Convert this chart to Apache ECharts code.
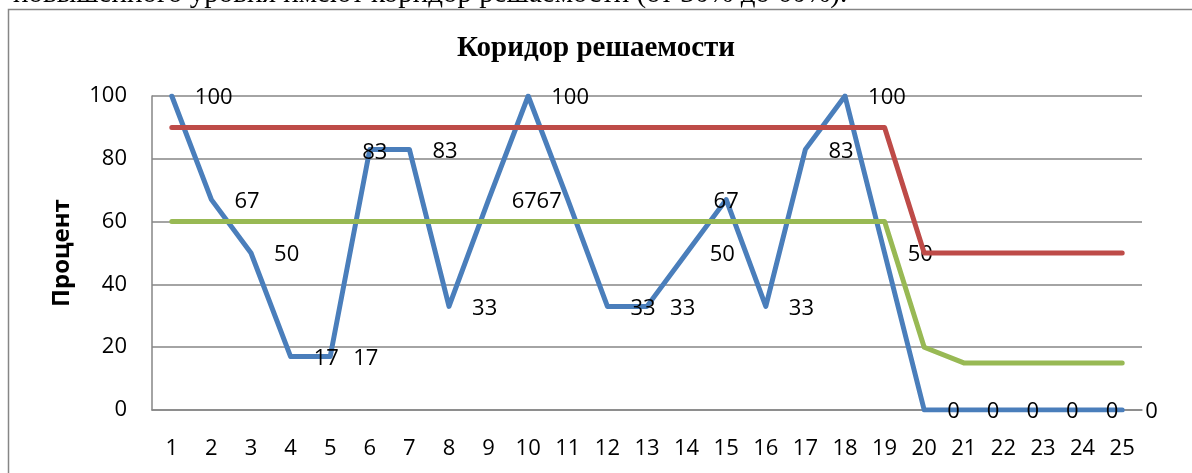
<!DOCTYPE html>
<html>
<head>
<meta charset="utf-8">
<script src="https://cdn.jsdelivr.net/npm/echarts@6/dist/echarts.min.js"></script>
<style>
html,body{margin:0;padding:0;background:#fff;}
#chart{width:1192px;height:473px;}
</style>
</head>
<body>
<div id="chart"></div>
<script>
// ---- data ----
const categories = ['1','2','3','4','5','6','7','8','9','10','11','12','13','14','15','16','17','18','19','20','21','22','23','24','25'];
const solvedValues = [100,67,50,17,17,83,83,33,67,100,67,33,33,50,67,33,83,100,50,0,0,0,0,0,0];
const upperBound = [90,90,90,90,90,90,90,90,90,90,90,90,90,90,90,90,90,90,90,50,50,50,50,50,50];
const lowerBound = [60,60,60,60,60,60,60,60,60,60,60,60,60,60,60,60,60,60,60,20,15,15,15,15,15];
const yTicks = [0,20,40,60,80,100];
const titleText = 'Коридор решаемости';
const yAxisTitle = 'Процент';
const aboveText = 'повышенного уровня имеют коридор решаемости (от 30% до 60%).';

// ---- label placement (style only) ----
const labelOverrides = {
  5:  {position: 'inside', offset: [5, 3]},
  10: {position: 'left', distance: 6, offset: [0, 2]},
  14: {position: 'inside', offset: [0, 2]}
};

const sans = '"Open Sans", "Liberation Sans", sans-serif';
const serif = '"Liberation Serif", "DejaVu Serif", serif';

const blueData = solvedValues.map((v, i) => {
  const o = labelOverrides[i];
  return o ? {value: v, label: Object.assign({}, o)} : v;
});

const chart = echarts.init(document.getElementById('chart'), null, {renderer: 'canvas'});
chart.setOption({
  animation: false,
  backgroundColor: '#ffffff',
  title: {
    text: titleText,
    left: 'center',
    top: 29,
    textStyle: {fontFamily: serif, fontWeight: 'bold', fontSize: 29, color: '#000'}
  },
  graphic: [
    {type: 'rect', shape: {x: 8.5, y: 9.5, width: 1200, height: 500},
     style: {fill: 'none', stroke: '#868686', lineWidth: 1.5}, silent: true, z: -1},
    {type: 'text', left: 13, top: -20,
     style: {text: aboveText, font: '29px ' + serif, fill: '#000'}, silent: true}
  ],
  grid: {left: 152, right: 50, top: 96, bottom: 63, containLabel: false},
  xAxis: {
    type: 'category',
    data: categories,
    boundaryGap: true,
    axisLine: {show: true, lineStyle: {color: '#868686', width: 1.5}},
    axisTick: {show: false},
    axisLabel: {fontFamily: sans, fontSize: 22, color: '#000', margin: 28, interval: 0}
  },
  yAxis: {
    type: 'value',
    min: 0, max: 100, interval: 20,
    name: yAxisTitle,
    nameLocation: 'middle',
    nameGap: 78,
    nameRotate: 90,
    nameTextStyle: {fontFamily: sans, fontWeight: 'bold', fontSize: 24, color: '#000'},
    axisLine: {show: true, lineStyle: {color: '#868686', width: 1.5}},
    axisTick: {show: false},
    splitLine: {show: true, lineStyle: {color: '#868686', width: 1.5}},
    axisLabel: {fontFamily: sans, fontSize: 22, color: '#000', margin: 25,
      formatter: v => yTicks.includes(v) ? String(v) : ''}
  },
  series: [
    {
      type: 'line', data: blueData,
      symbol: 'circle', symbolSize: 0.1, showSymbol: true,
      itemStyle: {color: '#4A7EBB'},
      lineStyle: {color: '#4A7EBB', width: 5, cap: 'round', join: 'round'},
      label: {show: true, position: 'right', distance: 23, offset: [0, 2],
        fontFamily: sans, fontSize: 22, color: '#000', formatter: '{c}'},
      z: 2
    },
    {
      type: 'line', data: upperBound,
      symbol: 'none',
      itemStyle: {color: '#BE4B48'},
      lineStyle: {color: '#BE4B48', width: 5, cap: 'round', join: 'round'},
      z: 3
    },
    {
      type: 'line', data: lowerBound,
      symbol: 'none',
      itemStyle: {color: '#98B954'},
      lineStyle: {color: '#98B954', width: 5, cap: 'round', join: 'round'},
      z: 4
    }
  ]
});
</script>
</body>
</html>
